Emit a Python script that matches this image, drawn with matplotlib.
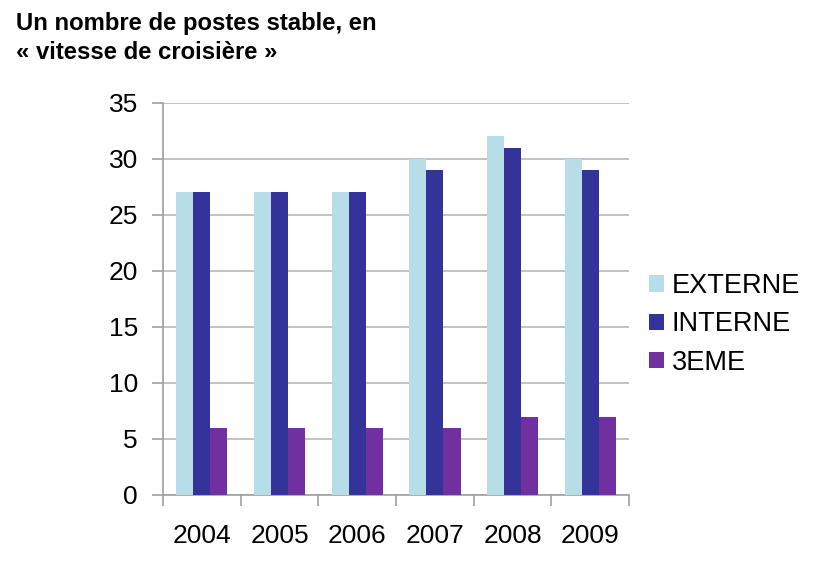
import matplotlib.pyplot as plt
import numpy as np

plt.rcParams['font.family'] = ['Liberation Sans', 'DejaVu Sans']

annees = ['2004', '2005', '2006', '2007', '2008', '2009']
externe = [27, 27, 27, 30, 32, 30]
interne = [27, 27, 27, 29, 31, 29]
troisieme = [6, 6, 6, 6, 7, 7]
series = ['EXTERNE', 'INTERNE', '3EME']
couleurs = ['#B7DEE8', '#333399', '#7030A0']

fig = plt.figure(figsize=(8.15, 5.65), dpi=100)
ax = fig.add_axes([0.2, 0.124, 0.572, 0.694])

x = np.arange(len(annees))
w = 0.22
for i, (vals, nom, c) in enumerate(zip([externe, interne, troisieme], series, couleurs)):
    ax.bar(x + (i - 1) * w, vals, w, color=c, label=nom, zorder=3)

ax.set_xlim(-0.5, len(annees) - 0.5)
ax.set_ylim(0, 35)
ax.set_yticks(range(0, 36, 5))
ax.yaxis.grid(True, color='#BEBEBE', linewidth=1.3, zorder=0)
ax.set_xticks(x)
ax.set_xticklabels(annees)
ax.set_xticks(np.arange(-0.5, len(annees)), minor=True)
ax.tick_params(axis='x', which='major', length=0, pad=21, labelsize=19)
ax.tick_params(axis='x', which='minor', length=8, color='#A0A0A0', width=1.2)
ax.tick_params(axis='y', length=8, color='#A0A0A0', width=1.2, labelsize=19, pad=10)

for s in ['top', 'right']:
    ax.spines[s].set_visible(False)
for s in ['left', 'bottom']:
    ax.spines[s].set_color('#A0A0A0')
    ax.spines[s].set_linewidth(1.2)

ax.legend(loc='center left', bbox_to_anchor=(0.99, 0.435), frameon=False, fontsize=19.5,
          handlelength=0.55, handleheight=0.55, handletextpad=0.3, labelspacing=0.45)

fig.text(0.02, 0.978, 'Un nombre de postes stable, en\n« vitesse de croisière »',
         fontsize=17.2, fontweight='bold', va='top', ha='left', linespacing=1.3)

fig.savefig('out.png', dpi=100)
